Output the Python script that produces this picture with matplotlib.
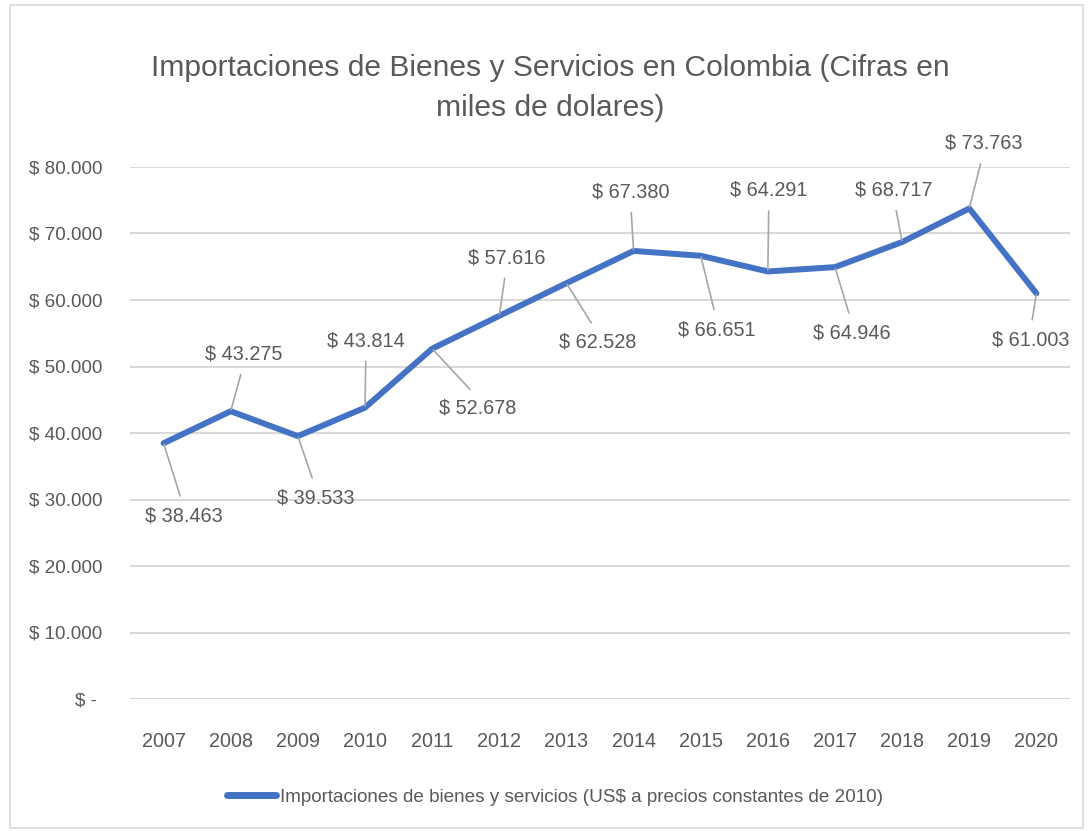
import matplotlib
matplotlib.use("Agg")
import matplotlib.pyplot as plt
from matplotlib import font_manager
from matplotlib.patches import Rectangle

years = ["2007", "2008", "2009", "2010", "2011", "2012", "2013",
         "2014", "2015", "2016", "2017", "2018", "2019", "2020"]
values = [38463, 43275, 39533, 43814, 52678, 57616, 62528,
          67380, 66651, 64291, 64946, 68717, 73763, 61003]
value_labels = ["$ 38.463", "$ 43.275", "$ 39.533", "$ 43.814", "$ 52.678",
                "$ 57.616", "$ 62.528", "$ 67.380", "$ 66.651", "$ 64.291",
                "$ 64.946", "$ 68.717", "$ 73.763", "$ 61.003"]
# label offsets from their point, in pixels (x right, y up)
label_dx = [20, 13, 18, 1, 46, 7, 31, -3, 16, 1, 17, -8, 14, -6]
label_dy = [-73, 57, -62, 67, -59, 58, -59, 59, -74, 81, -66, 52, 65, -47]
y_ticks = [0, 10000, 20000, 30000, 40000, 50000, 60000, 70000, 80000]
y_tick_labels = ["$ - ", "$ 10.000", "$ 20.000", "$ 30.000", "$ 40.000",
                 "$ 50.000", "$ 60.000", "$ 70.000", "$ 80.000"]
title = "Importaciones de Bienes y Servicios en Colombia (Cifras en\nmiles de dolares)"
series_name = "Importaciones de bienes y servicios (US$ a precios constantes de 2010)"

plt.rcParams["font.family"] = ["Liberation Sans", "DejaVu Sans"]

TXT = "#595959"
LINE = "#4472C4"
GRID = "#D9D9D9"
LEAD = "#A6A6A6"

W, H = 1088, 831
fig = plt.figure(figsize=(W / 100, H / 100), dpi=100)
fig.patch.set_facecolor("white")

left, right, top, bottom = 130, 1070, 167, 699
ax = fig.add_axes([left / W, 1 - bottom / H, (right - left) / W, (bottom - top) / H])

x = list(range(len(years)))
ax.plot(x, values, color=LINE, lw=4.3, solid_joinstyle="round", solid_capstyle="round", zorder=3,
        label=series_name)
ax.set_xlim(-0.5, len(years) - 0.5)
ax.set_ylim(0, 80000)
ax.set_yticks(y_ticks)
ax.set_yticklabels(y_tick_labels)
ax.set_xticks(x)
ax.set_xticklabels(years)
ax.grid(axis="y", color=GRID, lw=1.5)
ax.set_axisbelow(True)
for s in ax.spines.values():
    s.set_visible(False)
ax.tick_params(axis="both", length=0, colors=TXT)
ax.tick_params(axis="y", pad=20, labelsize=13.6)
ax.tick_params(axis="x", pad=24, labelsize=14.2)

for xi, v, lab, dx, dy in zip(x, values, value_labels, label_dx, label_dy):
    rel = (0.5, 0.0) if dy > 0 else (0.5, 1.0)
    ax.annotate(lab, xy=(xi, v), xytext=(dx, dy), textcoords="offset pixels",
                ha="center", va="center", fontsize=14.3, color=TXT, zorder=4,
                arrowprops=dict(arrowstyle="-", color=LEAD, lw=1.2, shrinkA=6, shrinkB=1,
                                relpos=rel))

fig.text(550 / W, 1 - 88 / H, title, ha="center", va="center", fontsize=21.6,
         color=TXT, linespacing=1.5)

leg = fig.legend(loc="center", bbox_to_anchor=(555 / W, 1 - 797 / H), frameon=False,
                 fontsize=13.6, handlelength=2.6, handletextpad=0.2, labelcolor=TXT)
for h in leg.get_lines():
    h.set_linewidth(5)

fig.add_artist(Rectangle((10 / W, 1 - 828 / H), 1073 / W, 823 / H, transform=fig.transFigure,
                         fill=False, edgecolor=GRID, lw=1.2))

fig.savefig("out.png", dpi=100, facecolor="white")
